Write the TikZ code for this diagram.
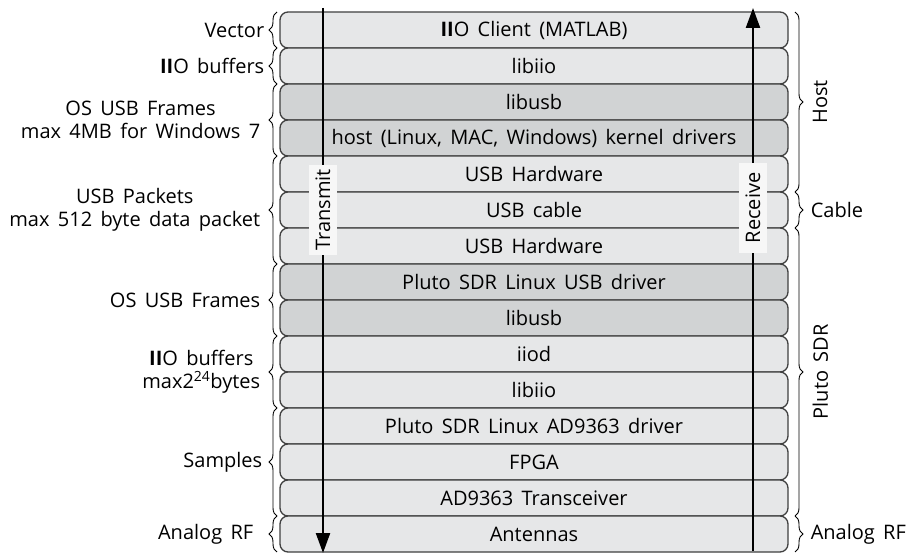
\documentclass[tikz,border=0pt]{standalone}
\usepackage{fontspec}
\setmainfont[WordSpace=1.6]{Open Sans}
\usetikzlibrary{positioning,decorations.pathreplacing,arrows.meta}
\definecolor{layerlight}{HTML}{E6E7E8}
\definecolor{layerdark}{HTML}{D1D3D4}
\definecolor{layerline}{HTML}{404040}

\begin{document}
\begin{tikzpicture}[
    x=1pt, y=-1pt,
    font=\fontsize{20}{23}\selectfont,
    layer/.style={rectangle, rounded corners=8pt, draw=layerline, line width=1.3pt, fill=layerlight, minimum width=508pt, minimum height=36pt, outer sep=0pt, inner sep=0pt},
    darklayer/.style={layer, fill=layerdark},
    lbrace/.style={decorate, decoration={brace, amplitude=8pt}, line width=0.9pt},
    rbrace/.style={decorate, decoration={brace, amplitude=8pt}, line width=0.9pt},
    flow/.style={-{Triangle[length=20pt, width=14pt]}, line width=2.3pt},
    flowlabel/.style={rotate=90, fill=white!97!black, inner sep=3pt, minimum width=90pt, minimum height=28pt}
]
    \useasboundingbox (0,0) rectangle (914,556);

    % Host
    \node[layer] (client) at (534,30) {\textbf{II}O Client (MATLAB)};
    \node[layer, below=0pt of client] (libiiohost) {libiio};
    \node[darklayer, below=0pt of libiiohost] (libusbhost) {libusb};
    \node[darklayer, below=0pt of libusbhost] (kernel) {host (Linux, MAC, Windows) kernel drivers};
    \node[layer, below=0pt of kernel] (usbhwhost) {USB Hardware};

    % Cable
    \node[layer, below=0pt of usbhwhost] (cable) {USB cable};

    % Pluto SDR
    \node[layer, below=0pt of cable] (usbhwpluto) {USB Hardware};
    \node[darklayer, below=0pt of usbhwpluto] (usbdriver) {Pluto SDR Linux USB driver};
    \node[darklayer, below=0pt of usbdriver] (libusbpluto) {libusb};
    \node[layer, below=0pt of libusbpluto] (iiod) {iiod};
    \node[layer, below=0pt of iiod] (libiiopluto) {libiio};
    \node[layer, below=0pt of libiiopluto] (addriver) {Pluto SDR Linux AD9363 driver};
    \node[layer, below=0pt of addriver] (fpga) {FPGA};
    \node[layer, below=0pt of fpga] (transceiver) {AD9363 Transceiver};
    \node[layer, below=0pt of transceiver] (antennas) {Antennas};

    % Transmit / Receive
    \coordinate (txstart) at (323,8);
    \coordinate (txend) at (323,553);
    \coordinate (rxstart) at (753,551);
    \coordinate (rxend) at (753,8);
    \draw[flow] (txstart) -- (txend);
    \draw[flow] (rxstart) -- (rxend);
    \node[flowlabel] (transmit) at (323,210) {Transmit};
    \node[flowlabel] (receive) at (753,208) {Receive};

    % Left braces
    \draw[lbrace] ([xshift=-3pt]client.south west) -- ([xshift=-3pt]client.north west)
        node[midway, left=9pt] (vector) {Vector};
    \draw[lbrace] ([xshift=-3pt]libiiohost.south west) -- ([xshift=-3pt]libiiohost.north west)
        node[midway, left=9pt] (iiobufhost) {\textbf{II}O buffers};
    \draw[lbrace] ([xshift=-3pt]kernel.south west) -- ([xshift=-3pt]libusbhost.north west)
        node[midway, left=13pt, align=center] (framehost) {OS USB Frames\\max 4MB for Windows 7};
    \draw[lbrace] ([xshift=-3pt]usbhwpluto.south west) -- ([xshift=-3pt]usbhwhost.north west)
        node[midway, left=13pt, align=center] (packets) {USB Packets\\max 512 byte data packet};
    \draw[lbrace] ([xshift=-3pt]libusbpluto.south west) -- ([xshift=-3pt]usbdriver.north west)
        node[midway, left=13pt] (framepluto) {OS USB Frames};
    \draw[lbrace] ([xshift=-3pt]libiiopluto.south west) -- ([xshift=-3pt]iiod.north west)
        node[midway, left=13pt, align=center] (iiobufpluto) {\textbf{II}O buffers\\max2\textsuperscript{24}bytes};
    \draw[lbrace] ([xshift=-3pt]transceiver.south west) -- ([xshift=-3pt]addriver.north west)
        node[midway, left=11pt] (samples) {Samples};
    \draw[lbrace] ([xshift=-3pt]antennas.south west) -- ([xshift=-3pt]antennas.north west)
        node[midway, left=20pt] (rfleft) {Analog RF};

    % Right braces
    \draw[rbrace] ([xshift=7pt]client.north east) -- ([xshift=7pt]usbhwhost.south east)
        node[midway, xshift=14pt, rotate=90, anchor=north] (host) {Host};
    \draw[rbrace] ([xshift=7pt]cable.north east) -- ([xshift=7pt]cable.south east)
        node[midway, right=12pt] (cablelabel) {Cable};
    \draw[rbrace] ([xshift=7pt]usbhwpluto.north east) -- ([xshift=7pt]transceiver.south east)
        node[midway, xshift=14pt, rotate=90, anchor=north] (pluto) {Pluto SDR};
    \draw[rbrace] ([xshift=7pt]antennas.north east) -- ([xshift=7pt]antennas.south east)
        node[midway, right=12pt] (rfright) {Analog RF};
\end{tikzpicture}
\end{document}
